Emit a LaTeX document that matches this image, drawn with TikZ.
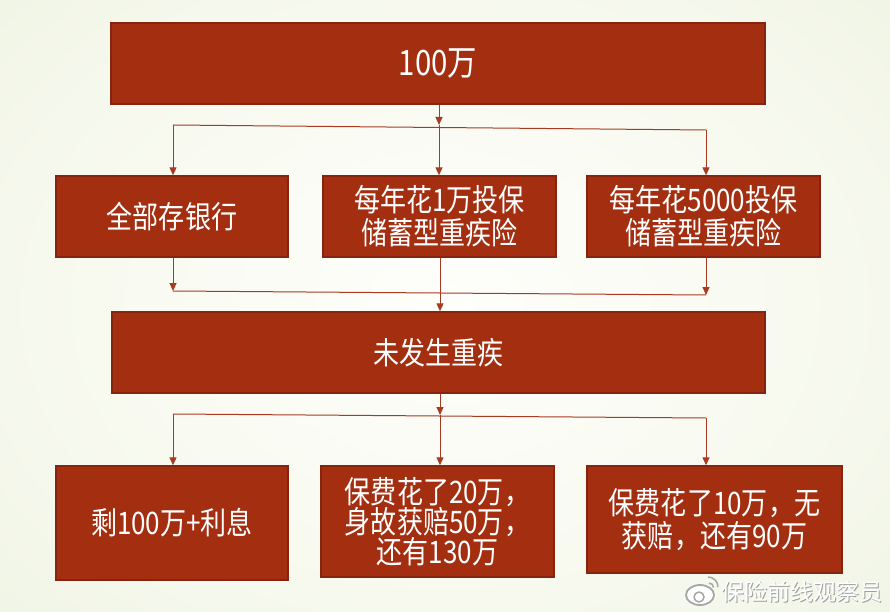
\documentclass[tikz,border=0pt]{standalone}
\usepackage{fontspec}
\newfontfamily\cjk[FakeStretch=0.84]{Noto Sans CJK SC}
\newfontfamily\cjkwm{Noto Sans CJK SC}
\usetikzlibrary{arrows.meta,shadows,calc}
\definecolor{boxred}{HTML}{A32E10}
\definecolor{boxedge}{HTML}{862410}
\definecolor{linered}{HTML}{A83A22}
\definecolor{bgA}{HTML}{FEFEFB}
\definecolor{bgB}{HTML}{F8FAF0}
\definecolor{bgC}{HTML}{EEF3E2}
\definecolor{bgD}{HTML}{E5EDD4}
\pgfdeclareradialshading{bgshade}{\pgfpoint{0bp}{0bp}}{%
  color(0bp)=(bgA); color(18bp)=(bgB);
  color(36bp)=(bgC); color(50bp)=(bgD)}
\tikzset{
  redbox/.style={draw=boxedge, line width=1.4pt, fill=boxred, text=white,
    inner sep=0pt, align=center, font=\cjk\fontsize{31}{33}\selectfont,
    drop shadow={opacity=0.25, shadow xshift=1.2pt, shadow yshift=-1.2pt}},
  conn/.style={draw=linered, line width=1pt},
  arr/.style={conn, -{Triangle[length=8pt,width=7pt]}},
}
\begin{document}
\begin{tikzpicture}[x=1pt,y=-1pt]
\useasboundingbox (0,0) rectangle (890,612);
\shade[shading=bgshade] (-40,-60) rectangle (930,672);

% boxes
\node[redbox, minimum width=654pt, minimum height=81pt, font=\cjk\fontsize{35}{38}\selectfont] (top) at (438,63.5) {100万};
\node[redbox, minimum width=232pt, minimum height=81pt] (bank) at (172,216.5) {全部存银行};
\node[redbox, minimum width=233pt, minimum height=81pt] (ins1) at (439.5,216.5) {每年花1万投保\\储蓄型重疾险};
\node[redbox, minimum width=233pt, minimum height=81pt] (ins2) at (703.5,216.5) {每年花5000投保\\储蓄型重疾险};
\node[redbox, minimum width=653pt, minimum height=81pt] (none) at (438.5,352.5) {未发生重疾};
\node[redbox, minimum width=232pt, minimum height=114pt] (r1) at (172,523) {剩100万+利息};
\node[redbox, minimum width=233pt, minimum height=111pt, font=\cjk\fontsize{31}{30}\selectfont] (r2) at (437.5,521.5) {保费花了20万，\\身故获赔50万，\\还有130万};
\node[redbox, minimum width=255pt, minimum height=107pt] (r3) at (714.5,519.5) {保费花了10万，无\\获赔，还有90万};

% level 1 connectors
\coordinate (jm1) at (439,125);
\coordinate (jl1) at (173,125);
\coordinate (jr1) at (706,130);
\draw[arr] (top.south -| jm1) -- (jm1);
\draw[arr] (jm1) -- (jm1 |- ins1.north);
\draw[conn] (jl1) -- (jr1);
\draw[arr] (jl1) -- (jl1 |- bank.north);
\draw[arr] (jr1) -- (jr1 |- ins2.north);

% level 2 connectors
\coordinate (jl2) at (173,291);
\coordinate (jr2) at (706,295);
\draw[arr] (jl2 |- bank.south) -- (jl2);
\draw[arr] (jr2 |- ins2.south) -- (jr2);
\draw[conn] (jl2) -- (jr2);
\coordinate (jm2) at (440,300);
\draw[arr] (jm2 |- ins1.south) -- (jm2 |- none.north);

% level 3 connectors
\coordinate (jm3) at (440,415);
\coordinate (jl3) at (173,414);
\coordinate (jr3) at (706,418);
\draw[arr] (jm3 |- none.south) -- (jm3);
\draw[arr] (jm3) -- (jm3 |- r2.north);
\draw[conn] (jl3) -- (jr3);
\draw[arr] (jl3) -- (jl3 |- r1.north);
\draw[arr] (jr3) -- (jr3 |- r3.north);

% watermark
\begin{scope}[shift={(700,593)}]
  \draw[gray!70, line width=1.8pt, fill=white] (0,2) ellipse (14pt and 10pt);
  \draw[gray!70, line width=1.5pt, fill=white] (-1,4) circle (5pt);
  \draw[gray!70, line width=1.5pt] (8,-16) arc (90:0:10pt);
  \draw[gray!70, line width=1.5pt] (9,-10) arc (90:0:4.5pt);
\end{scope}
\node[text=gray!75, font=\cjkwm\fontsize{23}{26}\selectfont, anchor=west] at (718.8,593) {保险前线观察员};
\node[text=white, font=\cjkwm\fontsize{23}{26}\selectfont, anchor=west] (wm) at (718,592) {保险前线观察员};
\end{tikzpicture}
\end{document}
